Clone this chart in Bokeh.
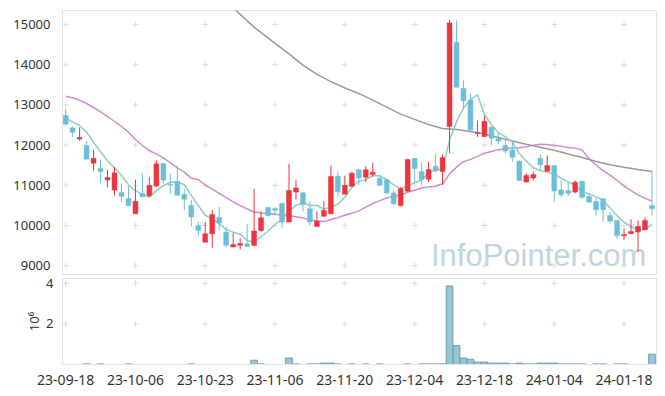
import numpy as np
import pandas as pd
from bokeh.plotting import figure
from bokeh.layouts import column
from bokeh.models import ColumnDataSource, Label, FixedTicker, Range1d
from bokeh.embed import file_html
from bokeh.resources import INLINE

# ---------------- data ----------------
holidays = ["2023-09-28", "2023-09-29", "2023-10-02", "2023-10-03", "2023-10-09",
            "2023-12-25", "2023-12-29", "2024-01-01"]
dates = pd.bdate_range("2023-09-18", "2024-01-24", freq="C", holidays=holidays)
date_labels = list(dates.strftime("%y-%m-%d"))

opens = [12736, 12430, 12150, 11990, 11550, 11420, 11130, 10880, 10820, 10670,
         10290, 10795, 10740, 10980, 11540, 11020, 11095, 10775, 10500, 10000,
         9585, 9795, 10200, 9835, 9465, 9510, 9545, 9500, 9875, 10450,
         10420, 10555, 10085, 10830, 10815, 10415, 9975, 10230, 10290, 11225,
         10780, 10975, 11385, 11200, 11270, 11175, 11135, 10810, 10500, 10850,
         11670, 11340, 11150, 11475, 11340, 12465, 14550, 13410, 13120, 12290,
         12215, 12445, 12160, 11990, 11880, 11600, 11080, 11180, 11665, 11350,
         11490, 10885, 10870, 10830, 11100, 10720, 10595, 10665, 10250, 10125,
         9745, 9795, 9835, 9895, 10495]
highs = [12903, 12470, 12440, 12100, 11880, 11640, 11385, 11450, 11050, 10990,
         11140, 11285, 11200, 11620, 11545, 11300, 11490, 10910, 10635, 10090,
         10090, 10390, 10460, 9960, 9810, 9690, 10040, 10910, 10360, 10450,
         10460, 10560, 11535, 11140, 10820, 10600, 10355, 10600, 11490, 11350,
         11240, 11340, 11410, 11470, 11560, 11240, 11150, 10870, 10955, 11645,
         11675, 11570, 11590, 11780, 11770, 15120, 15100, 13610, 13280, 12610,
         12730, 12450, 12290, 12140, 12110, 11620, 11300, 11340, 11775, 11740,
         11500, 11120, 11080, 11120, 11110, 10800, 10690, 10670, 10340, 10130,
         9920, 10150, 10120, 10200, 11370]
lows = [12487, 12197, 12107, 11650, 11360, 11060, 10950, 10750, 10580, 10490,
        10290, 10700, 10705, 10950, 11040, 10790, 10750, 10390, 9980, 9720,
        9585, 9445, 9880, 9460, 9460, 9400, 9480, 9500, 9840, 10235,
        10250, 9950, 10080, 10650, 10350, 10000, 9975, 10225, 10280, 10720,
        10770, 10970, 11000, 11080, 11220, 10995, 10780, 10500, 10470, 10845,
        11080, 11000, 11080, 11325, 11010, 11800, 13440, 12900, 12370, 12200,
        12210, 11990, 12020, 11790, 11590, 11120, 11075, 11120, 11360, 11350,
        10590, 10700, 10730, 10800, 10660, 10575, 10250, 10090, 10040, 9670,
        9645, 9790, 9340, 9890, 10250]
closes = [12520, 12320, 12190, 11650, 11670, 11340, 11195, 11310, 10730, 10490,
          10600, 10715, 11000, 11535, 11130, 11000, 10750, 10650, 10210, 9875,
          9795, 10275, 10060, 9510, 9525, 9550, 9480, 9860, 10190, 10240,
          10380, 10085, 10870, 10935, 10520, 10085, 10110, 10375, 11220, 10840,
          11000, 11300, 11180, 11385, 11325, 11000, 10810, 10540, 10915, 11640,
          11420, 11145, 11390, 11360, 11690, 15040, 13440, 13100, 12370, 12310,
          12590, 12170, 12100, 11850, 11700, 11120, 11245, 11270, 11510, 11490,
          10855, 10765, 10805, 11075, 10705, 10580, 10390, 10390, 10110, 9750,
          9775, 9850, 9975, 10125, 10415]
# volume, in shares
volumes = [0, 0, 0, 30000, 0, 30000, 0, 0, 0, 30000,
           0, 0, 0, 0, 0, 0, 0, 0, 30000, 0,
           0, 0, 0, 0, 0, 0, 0, 210000, 30000, 0,
           0, 0, 320000, 30000, 0, 30000, 30000, 70000, 70000, 30000,
           0, 30000, 0, 30000, 0, 30000, 0, 0, 0, 30000,
           0, 30000, 30000, 30000, 30000, 3870000, 930000, 320000, 260000, 120000,
           120000, 70000, 70000, 70000, 30000, 70000, 30000, 30000, 70000, 70000,
           70000, 30000, 30000, 30000, 30000, 0, 30000, 30000, 0, 30000,
           30000, 0, 0, 0, 510000]

# moving averages whose earlier history lies before the chart
ma5_head = [12679, 12570, 12488, 12321]
ma20_head = [13217, 13177, 13118, 13035, 12935, 12828, 12711, 12587, 12463, 12321,
             12139, 11990, 11858, 11783, 11683, 11559, 11435, 11326, 11177]
ma120_idx = [22, 24, 27, 30, 32, 34, 36, 38, 40, 42, 44, 46, 48, 50, 52, 54, 56, 58,
             60, 62, 64, 66, 68, 70, 72, 74, 76, 78, 80, 82, 84]
ma120_val = [15730, 15412, 14934, 14530, 14270, 13990, 13760, 13580, 13420, 13285,
             13120, 12943, 12770, 12640, 12510, 12415, 12385, 12340, 12275, 12190,
             12100, 12020, 11948, 11870, 11780, 11690, 11590, 11510, 11450, 11395,
             11343]

price_ticks = [9000, 10000, 11000, 12000, 13000, 14000, 15000]
vol_ticks = [2, 4]
date_ticks = list(range(0, 85, 10))

# ---------------- derived ----------------
n = len(closes)
xs = np.arange(n)
o = np.array(opens, float); c = np.array(closes, float)
h = np.array(highs, float); l = np.array(lows, float)
RED, BLUE = "#ec353c", "#6dbfd8"
colors = [RED if cc >= oo else BLUE for oo, cc in zip(o, c)]
src = ColumnDataSource(dict(x=xs, top=np.maximum(o, c), bottom=np.minimum(o, c),
                            high=h, low=l, color=colors))

cs = pd.Series(c)
ma5 = cs.rolling(5).mean().to_numpy()
ma5[:4] = ma5_head
ma20 = cs.rolling(20).mean().to_numpy()
ma20[:19] = ma20_head

FONT = "Noto Sans"
GRIDC = "#dcdcdc"
EDGE = "#e3e3e3"
LEFT = 62
W = 657

xr = Range1d(-0.45, 84.65)

# ---------------- price figure ----------------
p = figure(width=W, height=275, x_range=xr, y_range=Range1d(8756, 15348),
           output_backend="svg", toolbar_location=None, x_axis_location=None,
           min_border_left=LEFT, min_border_right=1, min_border_top=10, min_border_bottom=0)
p.grid.visible = False
p.outline_line_color = EDGE
p.yaxis.ticker = FixedTicker(ticks=price_ticks)
p.yaxis.axis_line_color = EDGE
p.yaxis.major_tick_line_color = None
p.yaxis.minor_tick_line_color = None
p.yaxis.major_label_text_font = FONT
p.yaxis.major_label_text_font_size = "13px"
p.yaxis.major_label_text_color = "#333333"
p.yaxis.major_label_standoff = 6

gx, gy = np.meshgrid(date_ticks, price_ticks)
p.scatter(gx.ravel(), gy.ravel(), marker="cross", size=6, line_color=GRIDC, line_width=1)

wm = Label(x=83.2, y=9254, text="InfoPointer.com", text_align="right",
           text_baseline="middle", text_font="Liberation Sans", text_font_size="31px",
           text_color="#c0d5e2", level="underlay")
p.add_layout(wm)

p.line(xs, ma20, line_color="#cf8dca", line_width=1.5)
p.line(ma120_idx, ma120_val, line_color="#9a9a9a", line_width=1.5)
p.line(xs, ma5, line_color="#8ecfc2", line_width=1.5)

p.segment(x0="x", y0="high", x1="x", y1="low", line_color="color", line_width=1, source=src)
p.vbar(x="x", width=0.7, top="top", bottom="bottom", fill_color="color",
       line_color="color", line_width=0.5, source=src)

# ---------------- volume figure ----------------
v = figure(width=W, height=112, x_range=xr, y_range=Range1d(0, 4.24),
           output_backend="svg", toolbar_location=None,
           min_border_left=LEFT, min_border_right=1, min_border_top=3, min_border_bottom=0)
v.grid.visible = False
v.outline_line_color = EDGE
vg_x, vg_y = np.meshgrid(date_ticks, vol_ticks)
v.scatter(vg_x.ravel(), vg_y.ravel(), marker="cross", size=6, line_color=GRIDC, line_width=1)

vol = np.array(volumes, float) / 1e6
mask = vol > 0
v.vbar(x=xs[mask], width=0.95, top=vol[mask], bottom=0, fill_color="#9ac3d3",
       line_color="#6a9fb5", line_width=1)

v.yaxis.ticker = FixedTicker(ticks=vol_ticks)
v.yaxis.axis_label = "10\u2076"
v.yaxis.axis_label_text_font = FONT
v.yaxis.axis_label_text_font_style = "normal"
v.yaxis.axis_label_text_font_size = "13px"
v.yaxis.axis_label_text_color = "#333333"
v.yaxis.axis_label_standoff = 0
v.xaxis.ticker = FixedTicker(ticks=date_ticks)
v.xaxis.major_label_overrides = {t: date_labels[t] for t in date_ticks}
for ax in (v.xaxis, v.yaxis):
    ax.axis_line_color = EDGE
    ax.major_tick_line_color = None
    ax.minor_tick_line_color = None
    ax.major_label_text_font = FONT
    ax.major_label_text_color = "#333333"
v.yaxis.major_label_text_font_size = "13px"
v.xaxis.major_label_text_font_size = "14px"
v.yaxis.major_label_standoff = 3
v.xaxis.major_label_standoff = 4

layout = column(p, v)
open("out.html", "w").write(file_html(layout, INLINE))
